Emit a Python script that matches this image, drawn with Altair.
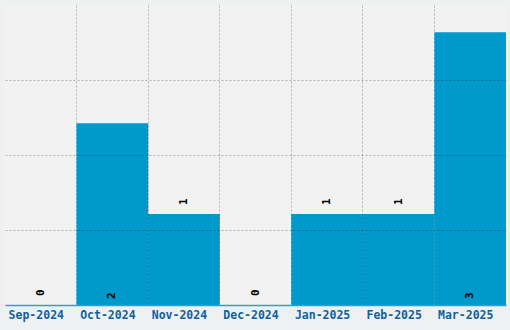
import altair as alt
import pandas as pd

months = ["Sep-2024", "Oct-2024", "Nov-2024", "Dec-2024", "Jan-2025", "Feb-2025", "Mar-2025"]
counts = [0, 2, 1, 0, 1, 1, 3]

df = pd.DataFrame({"month": months, "count": counts})

FONT = "DejaVu Sans Mono"
BAR = "#0099cc"

x_enc = alt.X(
    "month:N", sort=months, title=None,
    scale=alt.Scale(paddingInner=0, paddingOuter=0),
    axis=alt.Axis(
        labelAngle=0, labelFont=FONT, labelFontSize=11.5, labelFontWeight="bold",
        labelColor="#11609f", labelPadding=4, labelOffset=-4.5, ticks=False,
        domain=True, domainColor="#2aa3d3", domainWidth=1.5,
        grid=True, bandPosition=0, gridDash=[2, 2], gridColor="#000000",
        gridOpacity={"condition": {"test": "datum.value === 'Sep-2024'", "value": 0}, "value": 0.27},
        zindex=1,
    ),
)
y_scale = alt.Scale(domain=[0, 3.3], nice=False)
y_axis = alt.Axis(
    values=[0.825, 1.65, 2.475], labels=False, ticks=False, domain=False, title=None,
    grid=True, gridDash=[2, 2], gridColor="#000000", gridOpacity=0.27, zindex=1,
)

bars = alt.Chart(df).mark_bar(color=BAR).encode(
    x=x_enc,
    y=alt.Y("count:Q", scale=y_scale, axis=y_axis),
)

lab_small = alt.Chart(df).transform_filter("datum.count <= 1").mark_text(
    angle=270, align="left", baseline="middle", font=FONT, fontSize=11,
    fontWeight="bold", color="#000000", yOffset=-9,
).encode(
    x=alt.X("month:N", sort=months),
    y=alt.Y("count:Q", scale=y_scale),
    text="count:Q",
)

lab_big = alt.Chart(df).transform_filter("datum.count >= 2").transform_calculate(
    base="0"
).mark_text(
    angle=270, align="left", baseline="middle", font=FONT, fontSize=11,
    fontWeight="bold", color="#000000", yOffset=-6,
).encode(
    x=alt.X("month:N", sort=months),
    y=alt.Y("base:Q", scale=y_scale),
    text="count:Q",
)

chart = alt.layer(bars, lab_small, lab_big).properties(
    width=501, height=300,
    autosize=alt.AutoSizeParams(type="none"),
    padding={"left": 5, "top": 5, "right": 4, "bottom": 25},
    background="#eef1f2",
).configure_view(fill="#f2f2f2", stroke=None)

chart.save("out.html", embed_options={"renderer": "svg", "actions": False})
